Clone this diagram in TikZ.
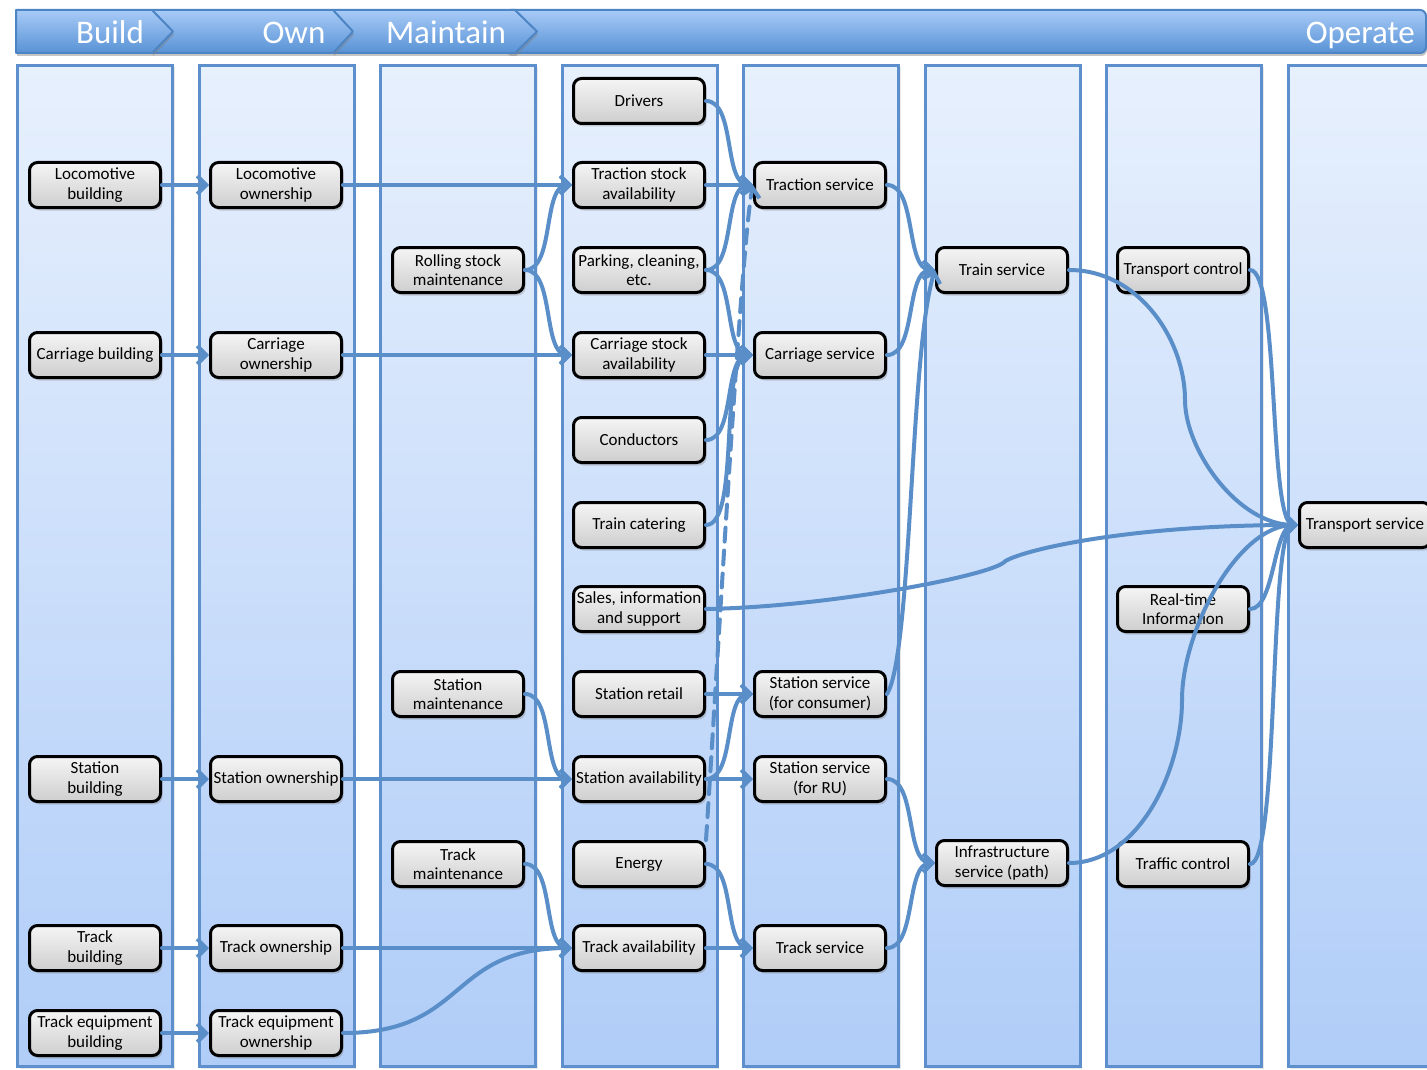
\documentclass[tikz,border=0pt]{standalone}
\usepackage{fontspec}
\setmainfont{Carlito}
\usetikzlibrary{arrows.meta,shadows}

\definecolor{laneedge}{RGB}{92,143,203}
\definecolor{lanetop}{RGB}{231,240,253}
\definecolor{lanebot}{RGB}{176,205,248}
\definecolor{linkblue}{RGB}{90,142,201}
\definecolor{headtop}{RGB}{168,203,247}
\definecolor{headbot}{RGB}{88,146,213}
\definecolor{headedge}{RGB}{77,132,196}
\definecolor{boxtop}{RGB}{245,245,245}
\definecolor{boxbot}{RGB}{206,206,206}

\tikzset{
  lane/.style={draw=laneedge, line width=3pt, top color=lanetop, bottom color=lanebot,
    drop shadow={shadow xshift=2pt, shadow yshift=-2pt, opacity=0.18}},
  stage/.style={draw=headedge, line width=2pt, top color=headtop, bottom color=headbot,
    line join=round, drop shadow={shadow xshift=1pt, shadow yshift=-3pt, opacity=0.45}},
  stagelabel/.style={text=white, font=\fontsize{33}{36}\selectfont, inner sep=0pt, anchor=base},
  task/.style={draw=black, line width=3pt, rounded corners=8pt, top color=boxtop, bottom color=boxbot,
    minimum width=131pt, minimum height=45pt, inner sep=1pt, align=center,
    font=\fontsize{17}{19.5}\selectfont,
    drop shadow={shadow xshift=2pt, shadow yshift=-3pt, opacity=0.35}},
  link/.style={draw=linkblue, line width=4pt, line cap=round,
    -{Straight Barb[length=9pt,width=18pt]}},
  powerlink/.style={link, dash pattern=on 14pt off 9pt},
}

\begin{document}
\begin{tikzpicture}[x=1pt, y=-1pt]
  \useasboundingbox (0,0) rectangle (1427,1070);
  \fill[white] (0,0) rectangle (1427,1070);

  % swim lanes
  \foreach \i in {0,...,7}
    \path[lane] ({17.5+181.5*\i},65.5) rectangle +(155,1001);

  % stage banner (drawn back to front)
  \path[stage, rounded corners=6pt] (505,10) -- (1426,10) -- (1426,53) -- (505,53) -- cycle;
  \path[stage] (333,10) -- (515,10) -- (537,31.5) -- (515,53) -- (333,53) -- cycle;
  \path[stage] (152,10) -- (333,10) -- (353,31.5) -- (333,53) -- (152,53) -- cycle;
  \path[stage] (16,10) -- (152,10) -- (173,31.5) -- (152,53) -- (16,53) -- cycle;
  \node[stagelabel] (hb) at (110,44) {Build};
  \node[stagelabel] (ho) at (294,44) {Own};
  \node[stagelabel] (hm) at (446,44) {Maintain};
  \node[stagelabel, anchor=base east] (hop) at (1415,44) {Operate};

  % build
  \node[task] (lb)  at (95,185)  {Locomotive\\building};
  \node[task] (cb)  at (95,355)  {Carriage building};
  \node[task] (sb)  at (95,779)  {Station\\building};
  \node[task] (tb)  at (95,948)  {Track\\building};
  \node[task] (teb) at (95,1033) {Track equipment\\building};
  % own
  \node[task] (lo)   at (276,185)  {Locomotive\\ownership};
  \node[task] (co)   at (276,355)  {Carriage\\ownership};
  \node[task] (so)   at (276,779)  {Station ownership};
  \node[task] (trko) at (276,948)  {Track ownership};
  \node[task] (teo)  at (276,1033) {Track equipment\\ownership};
  % maintain
  \node[task] (rsm) at (458,270) {Rolling stock\\maintenance};
  \node[task] (sm)  at (458,694) {Station\\maintenance};
  \node[task] (tm)  at (458,864) {Track\\maintenance};
  % resources
  \node[task] (dr)  at (639,101) {Drivers};
  \node[task] (tsa) at (639,185) {Traction stock\\availability};
  \node[task] (pc)  at (639,270) {Parking, cleaning,\\etc.};
  \node[task] (csa) at (639,355) {Carriage stock\\availability};
  \node[task] (cd)  at (639,440) {Conductors};
  \node[task] (tc)  at (639,525) {Train catering};
  \node[task] (sis) at (639,609) {Sales, information\\and support};
  \node[task] (sr)  at (639,694) {Station retail};
  \node[task] (sa)  at (639,779) {Station availability};
  \node[task] (en)  at (639,864) {Energy};
  \node[task] (ta)  at (639,948) {Track availability};
  % services
  \node[task] (trs) at (820,185) {Traction service};
  \node[task] (cs)  at (820,355) {Carriage service};
  \node[task] (ssc) at (820,694) {Station service\\(for consumer)};
  \node[task] (ssr) at (820,779) {Station service\\(for RU)};
  \node[task] (tsv) at (820,948) {Track service};
  \node[task] (trn) at (1002,270) {Train service};
  \node[task] (isp) at (1002,863) {Infrastructure\\service (path)};
  \node[task] (tpc) at (1183,270) {Transport control};
  \node[task] (rti) at (1183,609) {Real-time\\Information};
  \node[task] (tfc) at (1183,864) {Traffic control};
  \node[task] (tps) at (1365,525) {Transport service};

  % build -> own
  \draw[link] (lb) -- (lo);
  \draw[link] (cb) -- (co);
  \draw[link] (sb) -- (so);
  \draw[link] (tb) -- (trko);
  \draw[link] (teb) -- (teo);
  % own -> availability
  \draw[link] (lo) -- (tsa);
  \draw[link] (co) -- (csa);
  \draw[link] (so) -- (sa);
  \draw[link] (trko) -- (ta);
  \draw[link] (teo.east) .. controls +(125,0) and +(-125,0) .. (ta.west);
  % maintenance -> availability
  \draw[link] (rsm.east) .. controls +(30,0) and +(-30,0) .. (tsa.west);
  \draw[link] (rsm.east) .. controls +(30,0) and +(-30,0) .. (csa.west);
  \draw[link] (sm.east) .. controls +(30,0) and +(-30,0) .. (sa.west);
  \draw[link] (tm.east) .. controls +(30,0) and +(-30,0) .. (ta.west);
  % resources -> services
  \draw[link] (dr.east) .. controls +(30,0) and +(-30,0) .. (trs.west);
  \draw[link] (tsa) -- (trs);
  \draw[link] (pc.east) .. controls +(30,0) and +(-30,0) .. (trs.west);
  \draw[link] (pc.east) .. controls +(30,0) and +(-30,0) .. (cs.west);
  \draw[link] (csa) -- (cs);
  \draw[link] (cd.east) .. controls +(30,0) and +(-30,0) .. (cs.west);
  \draw[link] (tc.east) .. controls +(35,0) and +(-35,0) .. (cs.west);
  \draw[link] (sr) -- (ssc);
  \draw[link] (sa.east) .. controls +(30,0) and +(-30,0) .. (ssc.west);
  \draw[link] (sa) -- (ssr);
  \draw[link] (en.east) .. controls +(30,0) and +(-30,0) .. (tsv.west);
  \draw[link] (ta) -- (tsv);
  \draw[powerlink] (en.north east) .. controls +(10,-150) and +(-12,60) .. (trs.west);
  % services -> train / infrastructure
  \draw[link] (trs.east) .. controls +(30,0) and +(-30,0) .. (trn.west);
  \draw[link] (cs.east) .. controls +(30,0) and +(-30,0) .. (trn.west);
  \draw[link] (ssc.east) .. controls +(25,-40) and +(-25,80) .. (trn.west);
  \draw[link] (ssr.east) .. controls +(30,0) and +(-30,0) .. (isp.west);
  \draw[link] (tsv.east) .. controls +(30,0) and +(-30,0) .. (isp.west);
  % into transport service
  \draw[link] (sis.east) .. controls +(120,-2) and +(-20,14) .. (1003,563)
              .. controls +(8,-10) and +(-180,0) .. (tps.west);
  \draw[link] (trn.east) .. controls +(70,0) and +(0,-60) .. (1185,400)
              .. controls +(0,50) and +(-60,0) .. (tps.west);
  \draw[link] (isp.east) .. controls +(70,0) and +(0,70) .. (1182,700)
              .. controls +(0,-70) and +(-60,0) .. (tps.west);
  \draw[link] (tpc.east) .. controls +(30,0) and +(-30,0) .. (tps.west);
  \draw[link] (rti.east) .. controls +(25,0) and +(-25,0) .. (tps.west);
  \draw[link] (tfc.east) .. controls +(30,0) and +(-30,0) .. (tps.west);
\end{tikzpicture}
\end{document}
